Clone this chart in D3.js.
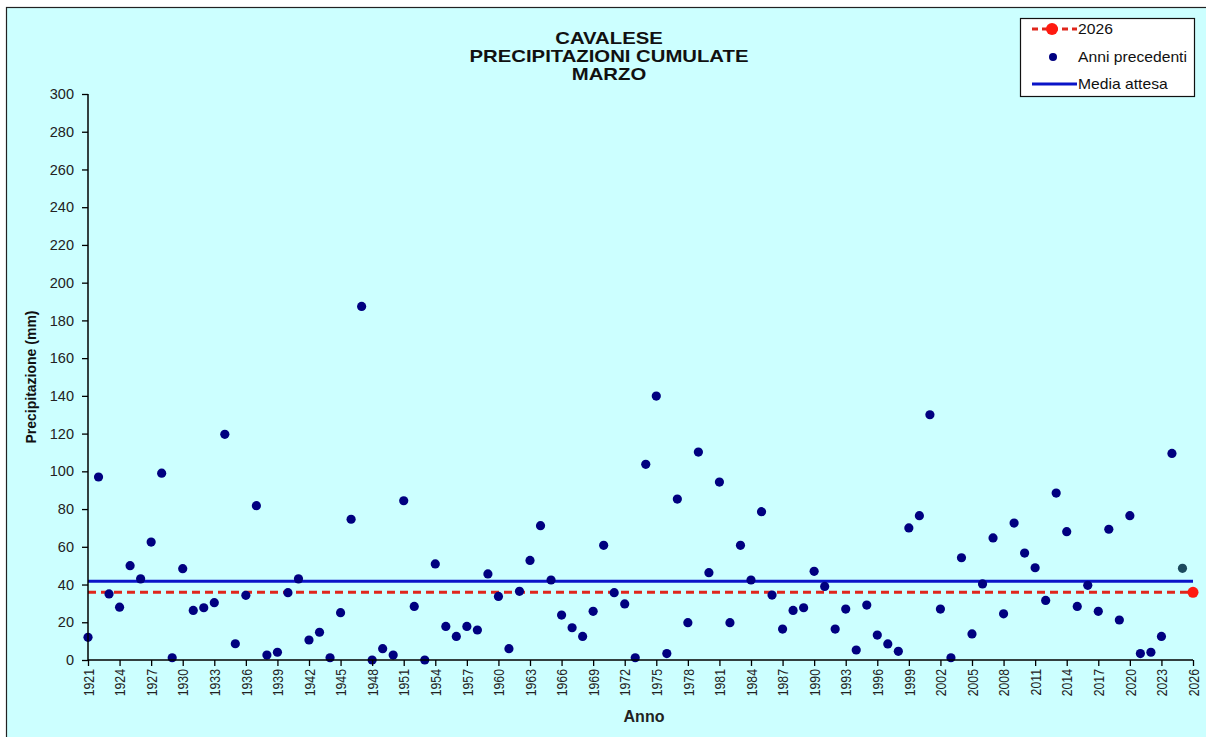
<!DOCTYPE html>
<html><head><meta charset="utf-8">
<script src="https://cdn.jsdelivr.net/npm/d3@7"></script>
<style>body{margin:0;background:#fff;}svg{display:block;font-family:"Liberation Sans",Arial,sans-serif;}</style>
</head><body>
<svg id="c" width="1206" height="737"></svg>
<script>
const years = d3.range(1921, 2026);
const values = [12,97,35,28,50,43,62.5,99,1.2,48.4,26.3,27.7,30.4,119.6,8.6,34.3,81.8,2.6,4.1,35.7,
43,10.6,14.7,1.2,25.1,74.6,187.4,0,6,2.6,84.4,28.4,0,50.9,17.8,12.5,17.8,15.9,45.6,33.7,
6,36.4,52.8,71.2,42.4,23.8,17.1,12.5,25.8,60.8,35.7,29.7,1.2,103.7,139.9,3.4,85.3,19.8,110.2,46.3,
94.3,19.8,60.8,42.4,78.6,34.4,16.4,26.3,27.7,47,39,16.4,27,5.3,29.1,13.2,8.5,4.6,70,76.5,
130,27,1.2,54.2,13.8,40.3,64.7,24.5,72.6,56.7,48.9,31.6,88.5,68,28.4,39.6,25.8,69.3,21.2,76.5,
3.4,4.1,12.5,109.5,48.6];
const currentYear = 2026;
const currentValue = 35.9;
const mediaAttesa = 41.7;
const yTicks = d3.range(0, 301, 20);
const xTicks = d3.range(1921, 2027, 3);
const titleLines = ["CAVALESE","PRECIPITAZIONI CUMULATE","MARZO"];
const legendLabels = ["2026","Anni precedenti","Media attesa"];

const svg = d3.select("#c");
svg.append("rect").attr("x",0).attr("y",0).attr("width",1206).attr("height",737).attr("fill","#ffffff");
svg.append("rect").attr("x",6.5).attr("y",7.5).attr("width",1206).attr("height",740)
  .attr("fill","#ccffff").attr("stroke","#222").attr("stroke-width",1.2);

const x = d3.scaleLinear().domain([1921, 2026]).range([88, 1193]);
const y = d3.scaleLinear().domain([0, 300]).range([660, 94]);

function stext(parent, tx, ty, sx, str, size, bold, anchor){
  const g = parent.append("g").attr("transform",`translate(${tx},${ty}) scale(${sx},1)`);
  g.append("text").attr("text-anchor",anchor||"start").attr("font-size",size+"px")
    .attr("font-weight",bold?"bold":"normal").attr("fill","#111").text(str);
  return g;
}

// title
titleLines.forEach((t,i)=>stext(svg,609,44+i*18,1.27,t,16,true,"middle"));

// lines
svg.append("line").attr("x1",x(1921)).attr("x2",x(2026)).attr("y1",y(mediaAttesa)).attr("y2",y(mediaAttesa))
  .attr("stroke","#0a14c8").attr("stroke-width",3);
svg.append("line").attr("x1",x(1921)).attr("x2",x(2026)).attr("y1",y(currentValue)).attr("y2",y(currentValue))
  .attr("stroke","#e0261c").attr("stroke-width",3).attr("stroke-dasharray","8,5");

// points
svg.append("g").selectAll("circle").data(years).join("circle")
  .attr("cx",d=>x(d)).attr("cy",(d,i)=>y(values[i])).attr("r",4.6)
  .attr("fill",d=>d===2025?"#1c4a5e":"#000080");
svg.append("circle").attr("cx",x(currentYear)).attr("cy",y(currentValue)).attr("r",5.5).attr("fill","#ff1a10");

// axes
const yAxis = svg.append("g").attr("transform","translate(88,0)")
  .call(d3.axisLeft(y).tickValues(yTicks).tickSize(6).tickPadding(8).tickFormat(d3.format("d")));
yAxis.select(".domain").attr("stroke","#000").attr("stroke-width",1.5).attr("d","M0,94V660");
yAxis.selectAll(".tick line").attr("stroke","#000").attr("stroke-width",1.3);
yAxis.selectAll("text").attr("font-size","14.5px").attr("fill","#222").attr("font-family","Liberation Sans, Arial, sans-serif");

const xAxis = svg.append("g").attr("transform","translate(0,660)")
  .call(d3.axisBottom(x).tickValues(xTicks).tickSize(6).tickFormat(d3.format("d")));
xAxis.select(".domain").attr("stroke","#000").attr("stroke-width",1.5).attr("d","M88,0H1193");
xAxis.selectAll(".tick line").attr("stroke","#000").attr("stroke-width",1.3);
xAxis.selectAll("text").attr("font-size","12.3px").attr("fill","#222")
  .attr("font-family","Liberation Sans, Arial, sans-serif")
  .attr("transform","rotate(-90) scale(1,1.22)").attr("text-anchor","end").attr("dy","0.35em").attr("x",-9).attr("y",0);

// axis titles
svg.append("text").attr("transform","translate(36,377) rotate(-90)").attr("text-anchor","middle")
  .attr("font-size","14px").attr("font-weight","bold").attr("fill","#111").text("Precipitazione (mm)");
svg.append("text").attr("x",644).attr("y",721.5).attr("text-anchor","middle")
  .attr("font-size","16px").attr("font-weight","bold").attr("fill","#222").text("Anno");

// legend
const lg = svg.append("g");
lg.append("rect").attr("x",1020.5).attr("y",18.5).attr("width",174).attr("height",78)
  .attr("fill","#ffffff").attr("stroke","#111").attr("stroke-width",1.2);
const ly = [29, 57, 84];
lg.append("line").attr("x1",1032).attr("x2",1077).attr("y1",ly[0]).attr("y2",ly[0])
  .attr("stroke","#e0261c").attr("stroke-width",3).attr("stroke-dasharray","6,4");
lg.append("circle").attr("cx",1052).attr("cy",ly[0]).attr("r",6).attr("fill","#ff1a10");
lg.append("circle").attr("cx",1053).attr("cy",ly[1]).attr("r",4).attr("fill","#000080");
lg.append("line").attr("x1",1032).attr("x2",1077).attr("y1",ly[2]).attr("y2",ly[2])
  .attr("stroke","#0a14c8").attr("stroke-width",3);
legendLabels.forEach((t,i)=>stext(lg,1078,ly[i]+5,1.12,t,14,false,"start"));
</script>
</body></html>
